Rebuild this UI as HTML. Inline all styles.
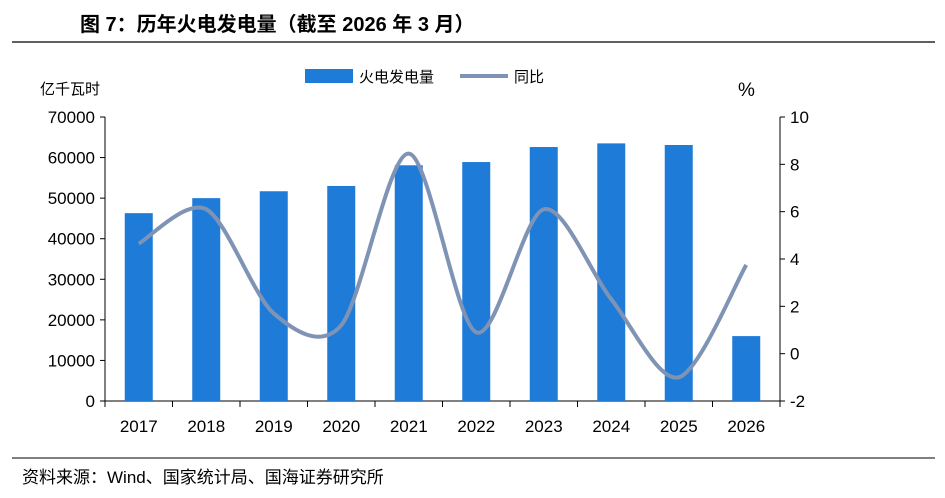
<!DOCTYPE html>
<html><head><meta charset="utf-8"><style>
body{margin:0;background:#fff;width:945px;height:493px;overflow:hidden;font-family:"Liberation Sans","Noto Sans CJK SC",sans-serif;}
</style></head><body>
<svg id="c" width="945" height="493" xmlns="http://www.w3.org/2000/svg">
<text x="80" y="31" font-size="20" font-weight="bold" fill="#000" font-family="Liberation Sans, Noto Sans CJK SC, sans-serif">图 7：历年火电发电量（截至 2026 年 3 月）</text>
<line x1="12" y1="42" x2="935" y2="42" stroke="#000" stroke-width="1.2"/>
<line x1="12" y1="458" x2="935" y2="458" stroke="#000" stroke-width="1"/>
<text x="22" y="483" font-size="17" fill="#000">资料来源：Wind、国家统计局、国海证券研究所</text>
<text x="40" y="94" font-size="15" fill="#000">亿千瓦时</text>
<text x="738" y="96" font-size="19" fill="#000">%</text>
<rect x="305" y="69" width="48" height="14" fill="#1f7bd8"/>
<text x="359" y="82" font-size="15" fill="#000">火电发电量</text>
<line x1="460" y1="76" x2="508" y2="76" stroke="#7f94b5" stroke-width="4"/>
<text x="514" y="82" font-size="15" fill="#000">同比</text>
<g id="g"></g>
</svg>
<script>
const categories=["2017","2018","2019","2020","2021","2022","2023","2024","2025","2026"];
const generation=[46300,50000,51700,53000,58100,58900,62600,63500,63100,16000];
const yoy=[4.65,6.1,1.7,1.2,8.45,0.9,6.1,2.3,-1.0,3.75];
const leftTicks=[0,10000,20000,30000,40000,50000,60000,70000];
const rightTicks=[-2,0,2,4,6,8,10];
const NS="http://www.w3.org/2000/svg";
const g=document.getElementById('g');
const X0=105,X1=780,Y0=401,Y1=117;
const bw=(X1-X0)/categories.length;
const xc=i=>X0+bw*(i+0.5);
const yl=v=>Y0-(v/70000)*(Y0-Y1);
const yr=v=>Y0-((v+2)/12)*(Y0-Y1);
function mk(t,a){const e=document.createElementNS(NS,t);for(const k in a)e.setAttribute(k,a[k]);g.appendChild(e);return e;}
let e;
e=mk('line',{x1:X0,y1:Y1,x2:X0,y2:Y0,stroke:'#000'});


e=mk('line',{x1:X1,y1:Y1,x2:X1,y2:Y0,stroke:'#000'});


e=mk('line',{x1:X0,y1:Y0,x2:X1,y2:Y0,stroke:'#000'});


leftTicks.forEach(v=>{
 mk('line',{x1:X0-5,y1:yl(v),x2:X0,y2:yl(v),stroke:'#000'});
 e=mk('text',{x:X0-10,y:yl(v)+6,'font-size':17,'text-anchor':'end'});e.textContent=v;
 
 
});
rightTicks.forEach(v=>{
 mk('line',{x1:X1,y1:yr(v),x2:X1+5,y2:yr(v),stroke:'#000'});
 e=mk('text',{x:X1+10,y:yr(v)+6,'font-size':17});e.textContent=v;
 
 
});
for(let i=0;i<=categories.length;i++)mk('line',{x1:X0+bw*i,y1:Y0,x2:X0+bw*i,y2:Y0+6,stroke:'#000'});
categories.forEach((c,i)=>{
 e=mk('rect',{x:xc(i)-14,y:yl(generation[i]),width:28,height:Y0-yl(generation[i]),fill:'#1f7bd8'});
 
 
 e=mk('text',{x:xc(i),y:Y0+31,'font-size':17,'text-anchor':'middle'});e.textContent=c;
 
 
});
const pts=yoy.map((v,i)=>[xc(i),yr(v)]);
let d='M'+pts[0][0]+','+pts[0][1];
for(let i=0;i<pts.length-1;i++){
 const p0=pts[Math.max(0,i-1)],p1=pts[i],p2=pts[i+1],p3=pts[Math.min(pts.length-1,i+2)];
 const t=0.3;
 const c1=[p1[0]+(p2[0]-p0[0])*t/2,p1[1]+(p2[1]-p0[1])*t/2];
 const c2=[p2[0]-(p3[0]-p1[0])*t/2,p2[1]-(p3[1]-p1[1])*t/2];
 d+=` C${c1[0]},${c1[1]} ${c2[0]},${c2[1]} ${p2[0]},${p2[1]}`;
}
e=mk('path',{d:d,fill:'none',stroke:'#7f94b5','stroke-width':4});


</script>
</body></html>
